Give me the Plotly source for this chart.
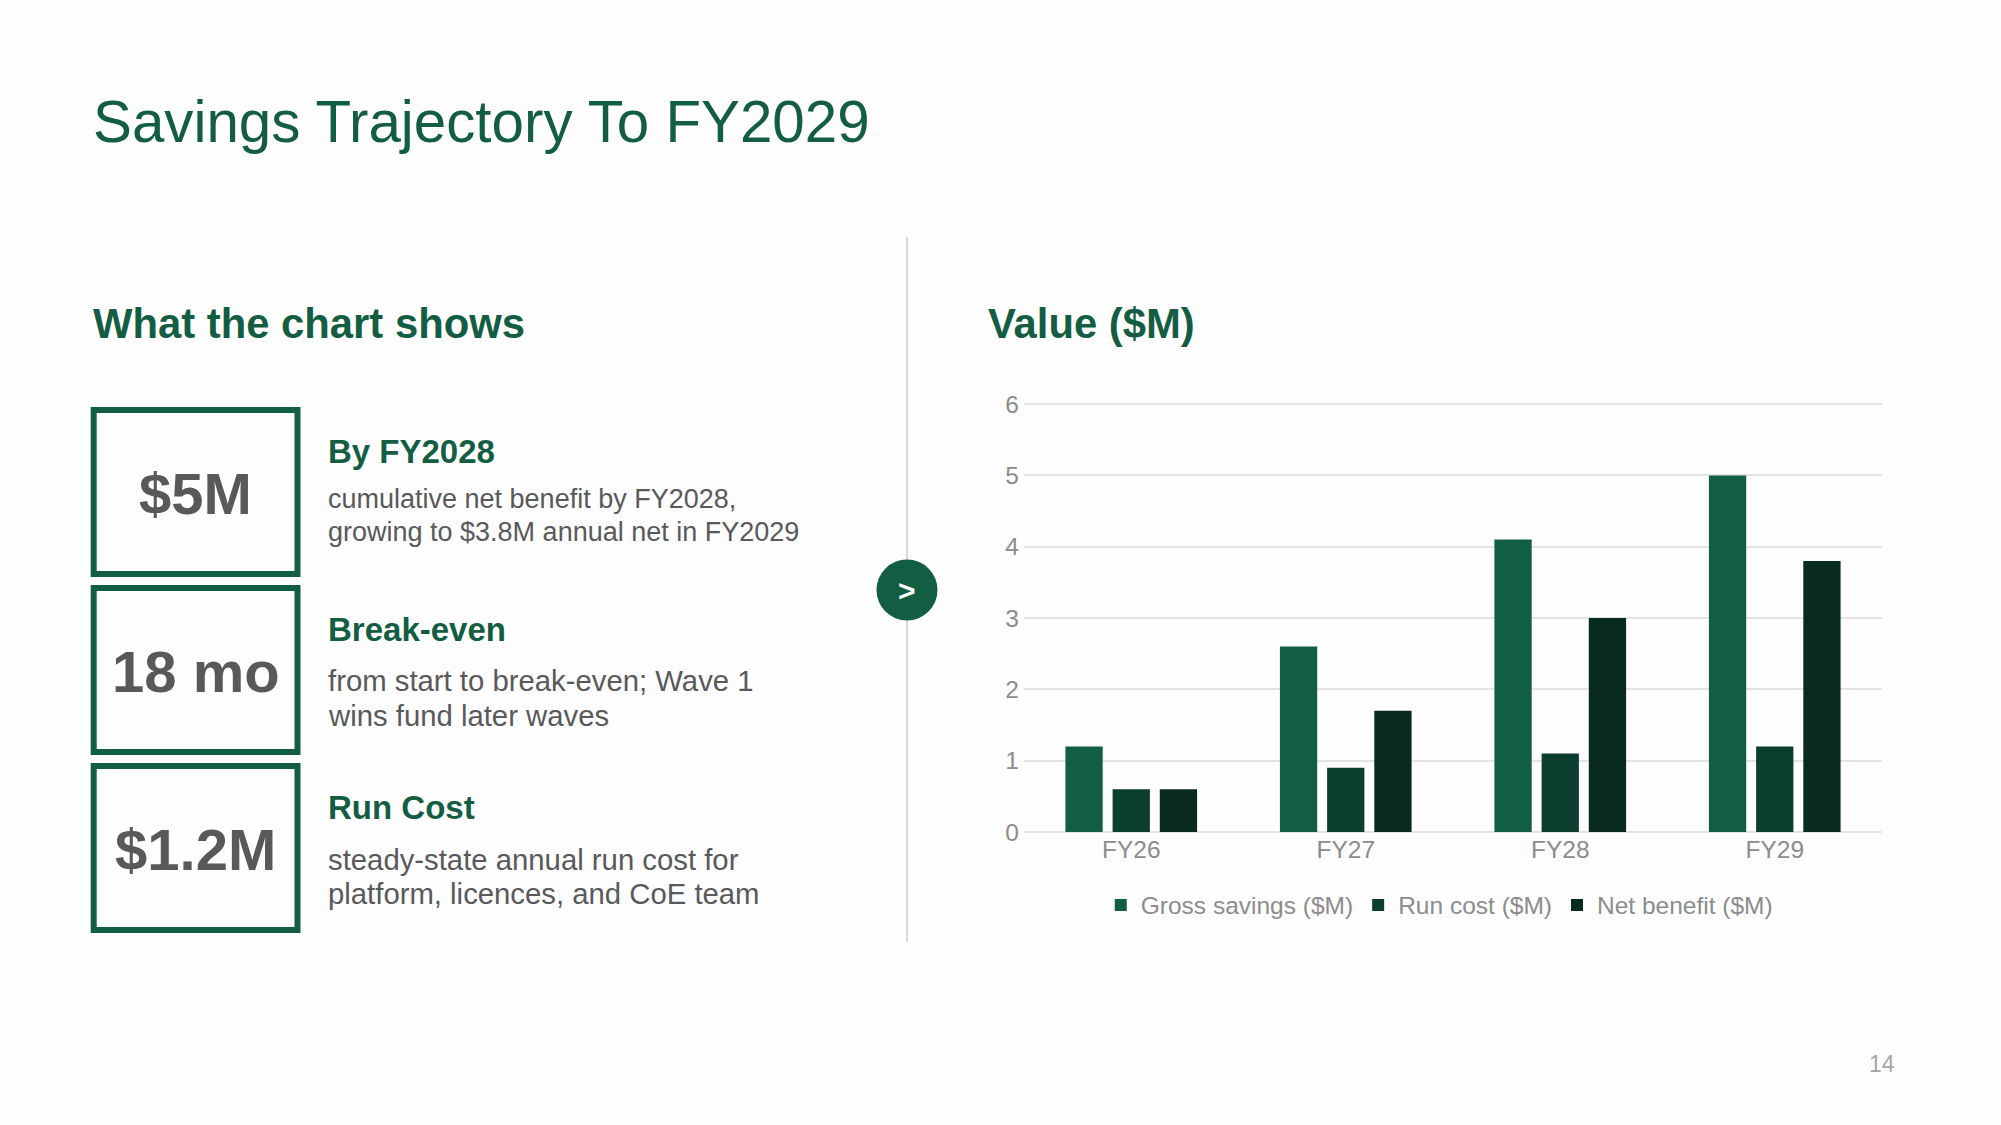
import plotly.graph_objects as go

# ---------------- data ----------------
categories = ["FY26", "FY27", "FY28", "FY29"]
gross_savings = [1.2, 2.6, 4.1, 5.0]
run_cost = [0.6, 0.9, 1.1, 1.2]
net_benefit = [0.6, 1.7, 3.0, 3.8]
series_names = ["Gross savings ($M)", "Run cost ($M)", "Net benefit ($M)"]
y_ticks = [0, 1, 2, 3, 4, 5, 6]

title_text = "Savings Trajectory To FY2029"
left_heading = "What the chart shows"
right_heading = "Value ($M)"
kpi_values = ["$5M", "18 mo", "$1.2M"]
kpi_titles = ["By FY2028", "Break-even", "Run Cost"]
kpi_lines = [
    ["cumulative net benefit by FY2028,", "growing to $3.8M annual net in FY2029"],
    ["from start to break-even; Wave 1", "wins fund later waves"],
    ["steady-state annual run cost for", "platform, licences, and CoE team"],
]
page_number = "14"

# ---------------- style ----------------
W, H = 2001, 1125
L, R, T, B = 1024, 119, 403, 293
PW, PH = W - L - R, H - T - B
FONT = "Liberation Sans"
GREEN = "#135E43"
C_GROSS, C_RUN, C_NET = "#125E43", "#0B3E2E", "#092A1F"
TEXT_GRAY = "#58595B"
AXIS_GRAY = "#8C8C8C"
GRID = "#E3E3E3"


def px(x):
    return (x - L) / PW


def py(y):
    return (H - B - y) / PH


fig = go.Figure()
for name, vals, col in zip(series_names, [gross_savings, run_cost, net_benefit],
                           [C_GROSS, C_RUN, C_NET]):
    fig.add_trace(go.Bar(x=categories, y=vals, name=name, marker=dict(color=col, line=dict(width=0))))

annotations = []
shapes = []


def text(x, y, s, size, color, bold=False, xanchor="left"):
    annotations.append(dict(
        x=px(x), y=py(y), xref="paper", yref="paper", text=("<b>%s</b>" % s) if bold else s,
        showarrow=False, xanchor=xanchor, yanchor="middle",
        font=dict(family=FONT, size=size, color=color)))


# title and headings
text(91, 121, title_text, 58.3, GREEN)
text(90.5, 324, left_heading, 41.8, GREEN, bold=True)
text(986, 324, right_heading, 41.8, GREEN, bold=True)

# divider and circle
shapes.append(dict(type="line", xref="paper", yref="paper", x0=px(907), x1=px(907),
                   y0=py(237), y1=py(942), line=dict(color="#CCCCCC", width=1.5)))
shapes.append(dict(type="circle", xref="paper", yref="paper", x0=px(876.5), x1=px(937.5),
                   y0=py(559.5), y1=py(620.5), fillcolor=GREEN, line=dict(width=0)))
text(907, 590, ">", 30, "white", bold=True, xanchor="center")

# KPI boxes
box_tops = [407, 585, 763]
desc_sizes = [27, 29.3, 29.3]
desc_offsets = [(48, 81), (51, 86), (52, 86)]
for i in range(3):
    top = box_tops[i]
    shapes.append(dict(type="rect", xref="paper", yref="paper", x0=px(93.7), x1=px(297.5),
                       y0=py(top + 3), y1=py(top + 167), line=dict(color=GREEN, width=6),
                       fillcolor="rgba(0,0,0,0)"))
    text(195.6, top + 86, kpi_values[i], 58, TEXT_GRAY, bold=True, xanchor="center")
    text(326, top + 44, kpi_titles[i], 33, GREEN, bold=True)
    for ln, off in zip(kpi_lines[i], desc_offsets[i]):
        text(326, top + 44 + off, ln, desc_sizes[i], TEXT_GRAY)

text(1897, 1064, page_number, 23, "#A6A6A6", xanchor="right")

fig.update_layout(
    width=W, height=H,
    margin=dict(l=L, r=R, t=T, b=B, autoexpand=False),
    paper_bgcolor="#FEFDFE", plot_bgcolor="rgba(0,0,0,0)",
    barmode="group", bargap=0.34, bargroupgap=0.21,
    font=dict(family=FONT, size=24, color=AXIS_GRAY),
    showlegend=True,
    legend=dict(orientation="h", x=0.484, xanchor="center", y=py(905), yanchor="middle",
                font=dict(family=FONT, size=24.5, color=AXIS_GRAY), bgcolor="rgba(0,0,0,0)",
                itemwidth=30, itemclick=False),
    annotations=annotations, shapes=shapes,
)
fig.update_xaxes(showgrid=False, showline=False, ticks="", tickfont=dict(size=24.5, color=AXIS_GRAY),
                 fixedrange=True)
fig.update_yaxes(range=[0, 6.015], tickvals=y_ticks, showgrid=True, gridcolor=GRID, gridwidth=1.5,
                 zeroline=True, zerolinecolor=GRID, zerolinewidth=1.5, showline=False, ticks="",
                 ticklabelstandoff=4,
                 tickfont=dict(size=24.5, color=AXIS_GRAY), fixedrange=True)

fig.write_html("out.html", config={"displayModeBar": False},
               post_script="document.body.style.margin='0';document.body.style.overflow='hidden';")
